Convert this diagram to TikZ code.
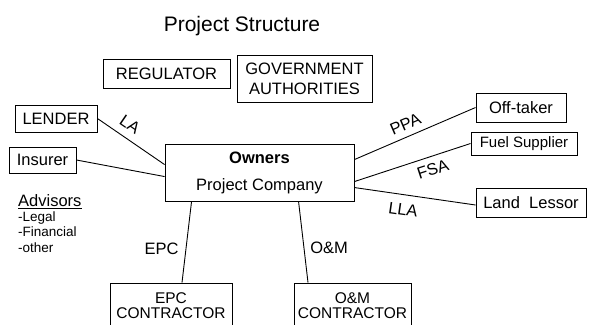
\documentclass[tikz,border=0pt]{standalone}
\usepackage{fontspec}
\setmainfont{Liberation Sans}
\usetikzlibrary{calc}
\begin{document}
\begin{tikzpicture}[x=1pt,y=-1pt,
  box/.style={draw, line width=0.9pt, inner sep=0pt, font=\fontsize{16.5}{20}\selectfont, align=center},
  conn/.style={line width=0.9pt},
  lbl/.style={font=\fontsize{16.5}{20}\selectfont, inner sep=1pt},
  smalltxt/.style={font=\fontsize{13.5}{15}\selectfont, inner sep=0pt, anchor=base west}]
\clip (0,0) rectangle (591,324);
\node[anchor=base, inner sep=0pt, font=\fontsize{21}{25}\selectfont] (title) at (242,31) {Project Structure};
\node[box, minimum width=127pt, minimum height=29pt] (reg) at (166.5,73.5) {REGULATOR};
\node[box, minimum width=135pt, minimum height=47pt] (gov) at (304.5,78.5) {GOVERNMENT\\AUTHORITIES};
\node[box, minimum width=82pt, minimum height=27pt] (lender) at (56,118.5) {LENDER};
\node[box, minimum width=67pt, minimum height=26pt] (insurer) at (42.5,160) {Insurer};
\node[box, minimum width=189pt, minimum height=57pt, font=\fontsize{16.5}{27}\selectfont] (owners) at (259.5,172.5) {\textbf{Owners}\\Project Company};
\node[box, minimum width=90pt, minimum height=29pt] (off) at (521,107.5) {Off-taker};
\node[box, minimum width=106pt, minimum height=23pt, font=\fontsize{15}{18}\selectfont] (fuel) at (524,143.5) {Fuel Supplier};
\node[box, minimum width=110pt, minimum height=29pt] (land) at (531,202.5) {Land~~Lessor};
\node[box, minimum width=122pt, minimum height=45.6pt, font=\fontsize{15.5}{15}\selectfont] (epc) at (171,305.8) {EPC\\CONTRACTOR};
\node[box, minimum width=117pt, minimum height=45.6pt, font=\fontsize{15.5}{15}\selectfont] (om) at (352.5,305.8) {O\&M\\CONTRACTOR};
% advisors
\node[anchor=base west, inner sep=0pt, font=\fontsize{16.5}{20}\selectfont] (adv) at (18,206) {Advisors};
\draw[line width=1.1pt] ($(adv.base west)+(0,2.4)$) -- ($(adv.base east)+(0,2.4)$);
\node[smalltxt] (legal) at (18,221) {-Legal};
\node[smalltxt] (fin) at (18,236.5) {-Financial};
\node[smalltxt] (other) at (18,252) {-other};
% connectors
\draw[conn] (lender.east) -- node[lbl, sloped, above=6.5pt, pos=0.37] (la) {LA} ($(owners.north west)+(0,21)$);
\draw[conn] (insurer.east) -- ($(owners.north west)+(0,33)$);
\draw[conn] ($(owners.north east)+(0,16)$) -- node[lbl, sloped, above=5pt, pos=0.46] (ppa) {PPA} (off.west);
\draw[conn] ($(owners.north east)+(0,38)$) -- node[lbl, sloped, below=5.5pt, pos=0.64] (fsa) {FSA} (fuel.west);
\draw[conn] ($(owners.north east)+(0,44)$) -- node[lbl, sloped, below=8pt, pos=0.42] (lla) {LLA} ($(land.west)+(0,2.5)$);
\draw[conn] ($(owners.south west)+(27,0)$) -- node[lbl, left=6pt, pos=0.585] (epcl) {EPC} ($(epc.north)+(11,0)$);
\draw[conn] ($(owners.south west)+(134,0)$) -- node[lbl, right=5pt, pos=0.57] (oml) {O\&M} ($(om.north)+(-44.5,0)$);
\end{tikzpicture}
\end{document}
